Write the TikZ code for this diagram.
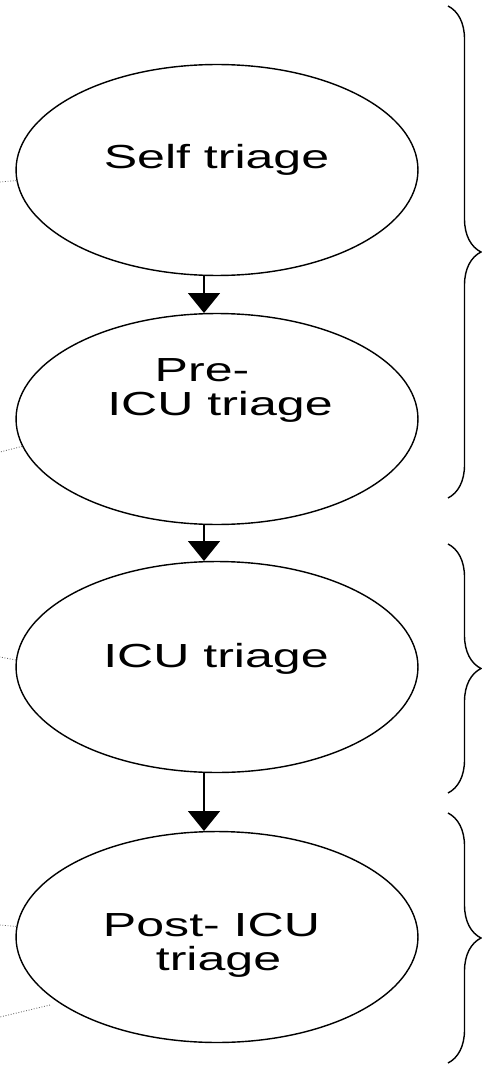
\documentclass[tikz,border=0pt]{standalone}
\usepackage{fontspec}
\newfontfamily\ovalfont[FakeStretch=1.5]{Liberation Sans}
\usetikzlibrary{shapes.geometric,arrows.meta,decorations.pathreplacing}

\begin{document}
\begin{tikzpicture}[x=0.02cm,y=-0.02cm,
    oval/.style={ellipse,draw,line width=0.8pt,minimum width=8.04cm,minimum height=4.22cm,inner sep=0pt},
    lbl/.style={font=\ovalfont\fontsize{19}{19.5}\selectfont,align=center,inner sep=0pt},
    flow/.style={line width=0.8pt,-{Triangle[width=0.64cm,length=0.4cm]}},
    leader/.style={densely dotted,black!60,line width=0.5pt},
    grp/.style={decorate,decoration={brace,amplitude=0.66cm},line width=0.8pt}]
  \useasboundingbox (0,0) rectangle (482,1067);
  % the four triage stages
  \foreach \stage/\y in {self/170,pre/419,icu/667,post/937}
    \node[oval] (\stage) at (217,\y) {};
  \node[lbl] (self-t) at (216.5,160.3) {Self triage};
  \node[lbl] (pre-t) at (220,390.8) {Pre-\hspace*{0.72cm}\\ICU triage};
  \node[lbl] (icu-t) at (216,659) {ICU triage};
  \node[lbl] (post-t) at (218.5,945) {Post- ICU\hspace*{0.28cm}\\triage};
  % arrows between stages
  \foreach \a/\b in {self/pre,pre/icu,icu/post}
    \draw[flow] (\a.-97.6) -- (\b.97.6);
  % cut connectors on the left
  \draw[leader] (self.183) -- (0,182);
  \draw[leader] (pre.188) -- (0,452);
  \draw[leader] (icu.178) -- (0,657);
  \draw[leader] (post.177) -- (0,925);
  \coordinate (stub) at (50,1005);
  \coordinate (stubend) at (0,1017);
  \draw[leader] (stub) -- (stubend);
  % braces
  \draw[grp] (448,6) -- (448,498);
  \draw[grp] (448,544) -- (448,793);
  \draw[grp] (448,813) -- (448,1063);
\end{tikzpicture}
\end{document}
